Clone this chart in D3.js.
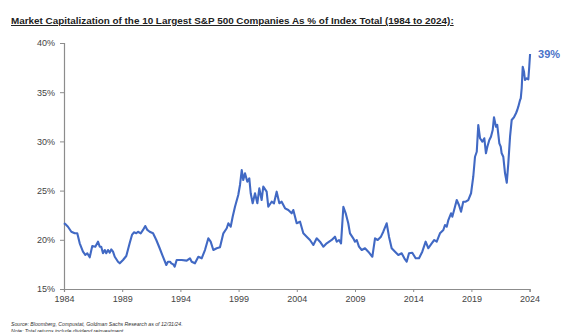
<!DOCTYPE html>
<html>
<head>
<meta charset="utf-8">
<script src="https://cdn.jsdelivr.net/npm/d3@7"></script>
<style>
  html, body { margin: 0; padding: 0; background: #fff; }
  svg { display: block; }
</style>
</head>
<body>
<svg id="chart" width="563" height="332"></svg>
<script>
// ---- Data ----
const years = [
  1984.0,1984.11,1984.34,1984.63,1984.92,1985.14,1985.35,1985.63,1985.83,1986.0,
  1986.21,1986.35,1986.43,1986.69,1986.92,1987.07,1987.2,1987.35,1987.5,1987.63,
  1987.78,1987.93,1988.06,1988.21,1988.36,1988.64,1988.79,1989.07,1989.35,1989.64,
  1989.84,1990.01,1990.21,1990.36,1990.59,1990.79,1990.98,1991.16,1991.36,1991.65,
  1991.93,1992.22,1992.5,1992.79,1992.93,1993.11,1993.22,1993.39,1993.51,1993.68,
  1994.11,1994.54,1994.82,1994.97,1995.25,1995.54,1995.83,1996.11,1996.4,1996.6,
  1996.83,1997.12,1997.4,1997.69,1997.98,1998.12,1998.32,1998.49,1998.69,1998.97,
  1999.12,1999.27,1999.4,1999.55,1999.75,1999.92,2000.04,2000.21,2000.41,2000.61,
  2000.78,2000.98,2001.12,2001.41,2001.55,2001.84,2002.04,2002.27,2002.5,2002.7,
  2002.99,2003.27,2003.56,2003.7,2003.99,2004.28,2004.56,2004.85,2005.13,2005.42,
  2005.71,2005.99,2006.28,2006.57,2007.0,2007.28,2007.43,2007.63,2007.8,2008.0,
  2008.2,2008.42,2008.57,2008.85,2009.0,2009.15,2009.34,2009.58,2009.86,2010.14,
  2010.49,2010.72,2010.95,2011.23,2011.43,2011.72,2011.92,2012.15,2012.44,2012.72,
  2013.01,2013.24,2013.44,2013.64,2013.92,2014.21,2014.5,2014.78,2015.07,2015.3,
  2015.59,2015.81,2016.02,2016.3,2016.59,2016.73,2016.88,2017.02,2017.25,2017.36,
  2017.59,2017.74,2017.93,2018.11,2018.3,2018.51,2018.73,2018.97,2019.16,2019.31,
  2019.46,2019.59,2019.74,2019.94,2020.11,2020.25,2020.37,2020.54,2020.68,2020.83,
  2020.94,2021.11,2021.22,2021.4,2021.52,2021.6,2021.74,2021.89,2022.04,2022.17,
  2022.32,2022.46,2022.66,2022.83,2022.94,2023.03,2023.18,2023.24,2023.32,2023.41,
  2023.52,2023.6,2023.75,2023.89,2023.97,2024.04
];
const shares = [
  21.7,21.6,21.33,20.82,20.66,20.66,19.64,18.79,18.46,18.63,
  18.22,18.96,19.37,19.3,19.81,19.3,19.3,18.63,18.96,18.63,
  18.96,18.69,19.03,18.79,18.28,17.77,17.61,17.95,18.35,19.64,
  20.49,20.76,20.66,20.82,20.66,21.0,21.4,21.0,20.82,20.66,
  19.98,19.14,18.28,17.44,17.77,17.77,17.61,17.5,17.27,17.95,
  17.95,17.88,18.12,17.77,17.61,18.28,18.12,18.96,20.15,19.81,
  18.96,19.14,19.24,20.66,21.17,21.68,21.33,22.35,23.36,24.55,
  25.57,27.09,26.08,26.76,25.9,26.25,24.73,23.71,24.73,23.71,
  25.23,24.04,25.4,24.89,23.36,23.87,23.71,24.89,23.71,23.87,
  23.2,23.03,22.69,23.03,21.68,21.84,20.66,20.32,19.98,19.47,
  20.15,19.81,19.3,19.64,19.98,20.32,19.81,19.98,19.64,23.36,
  22.69,21.68,20.66,20.15,19.81,19.98,19.3,18.96,19.14,18.79,
  18.28,20.15,19.98,20.32,20.82,21.68,20.32,19.14,18.79,18.46,
  18.63,18.12,17.77,18.63,18.69,18.12,18.12,18.79,19.81,19.14,
  19.64,19.98,19.81,20.66,21.0,21.5,21.33,22.01,22.69,22.35,
  23.36,24.04,23.54,22.86,23.87,23.87,24.04,24.73,26.41,28.44,
  28.95,31.67,30.32,29.97,30.32,28.79,29.46,30.14,30.48,31.16,
  32.45,31.49,31.67,29.8,29.46,28.79,28.44,26.76,25.8,27.77,
  30.48,32.17,32.45,32.86,33.19,33.53,34.21,34.38,35.4,37.59,
  37.08,36.24,36.41,36.31,37.59,38.88
];
const xTickYears = [1984, 1989, 1994, 1999, 2004, 2009, 2014, 2019, 2024];
const yTickValues = [15, 20, 25, 30, 35, 40];
const titleText = "Market Capitalization of the 10 Largest S&P 500 Companies As % of Index Total (1984 to 2024):";
const endLabel = "39%";
const sourceNote = "Source: Bloomberg, Compustat, Goldman Sachs Research as of 12/31/24.";
const noteText = "Note: Total returns include dividend reinvestment.";

// ---- Drawing ----
const svg = d3.select("#chart");
const font = "'Liberation Sans', Arial, Helvetica, sans-serif";
const lineColor = "#4169c4";
const axisColor = "#8c8c8c";

const x = d3.scaleLinear().domain([1984, 2024]).range([64, 529.6]);
const y = d3.scaleLinear().domain([15, 40]).range([289, 43]);

// Title
svg.append("text")
  .attr("x", 11).attr("y", 24)
  .attr("font-family", font).attr("font-weight", "bold").attr("font-size", 9.9)
  .attr("fill", "#222")
  .attr("text-decoration", "underline")
  .text(titleText);

// Y axis
const yAxis = svg.append("g")
  .attr("transform", `translate(${x(1984)},0)`)
  .call(d3.axisLeft(y).tickValues(yTickValues).tickFormat(d => d + "%").tickSize(4).tickPadding(5));
yAxis.select(".domain").attr("stroke", axisColor).attr("stroke-width", 1.2);
yAxis.selectAll(".tick line").attr("stroke", axisColor);
yAxis.selectAll(".tick text").attr("font-family", font).attr("font-size", 9).attr("fill", "#444");

// X axis
const xAxis = svg.append("g")
  .attr("transform", `translate(0,${y(15)})`)
  .call(d3.axisBottom(x).tickValues(xTickYears).tickFormat(d3.format("d")).tickSize(3).tickPadding(4));
xAxis.select(".domain").attr("stroke", axisColor).attr("stroke-width", 1.2);
xAxis.selectAll(".tick line").attr("stroke", axisColor);
xAxis.selectAll(".tick text").attr("font-family", font).attr("font-size", 9).attr("fill", "#444");

// Line
const pts = years.map((yr, i) => [yr, shares[i]]);
svg.append("path")
  .datum(pts)
  .attr("fill", "none")
  .attr("stroke", lineColor)
  .attr("stroke-width", 2.1)
  .attr("stroke-linejoin", "round")
  .attr("d", d3.line().x(d => x(d[0])).y(d => y(d[1])));

// End label
const last = pts[pts.length - 1];
svg.append("text")
  .attr("x", x(last[0]) + 8).attr("y", y(last[1]) + 4)
  .attr("font-family", font).attr("font-weight", "bold").attr("font-size", 11)
  .attr("fill", "#4a72c8")
  .text(endLabel);

// Footnotes
svg.append("text")
  .attr("x", 11).attr("y", 326)
  .attr("font-family", font).attr("font-style", "italic").attr("font-size", 5.2)
  .attr("fill", "#333")
  .text(sourceNote);
svg.append("text")
  .attr("x", 11).attr("y", 332.5)
  .attr("font-family", font).attr("font-style", "italic").attr("font-size", 5.2)
  .attr("fill", "#333")
  .text(noteText);
</script>
</body>
</html>
